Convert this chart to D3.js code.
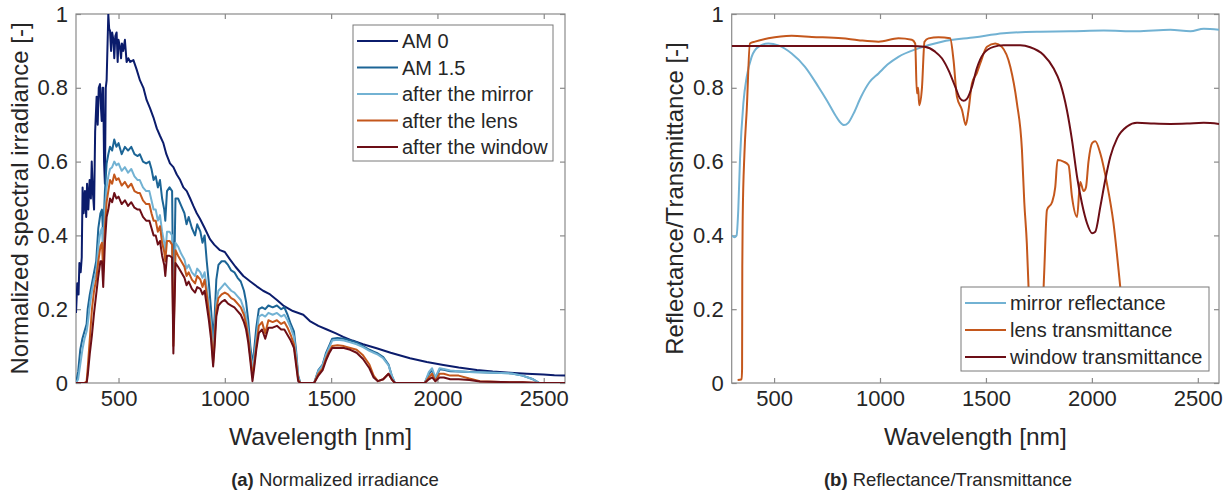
<!DOCTYPE html>
<html>
<head>
<meta charset="utf-8">
<script src="https://cdn.jsdelivr.net/npm/d3@7"></script>
<style>
    body { margin: 0; background: #fff; }
    svg text { font-family: "Liberation Sans", Arial, Helvetica, sans-serif; fill: #262626; }
</style>
</head>
<body>
<svg id="fig" width="1231" height="496"></svg>
<script>
/* ---------- data: panel (a) ---------- */
var wlAm0 = [300,306,312,316,322,327,331,336,342,348,352,358,364,370,374,379,385,390,397,402,407,413,417,421,425,428,432,436,440,444,452,456,460,465,470,476,480,485,491,496,500,507,512,516,522,530,538,546,555,570,585,601,617,632,648,664,680,695,711,725,742,758,774,790,805,821,837,852,868,883,905,930,950,977,1000,1024,1050,1087,1120,1150,1180,1213,1245,1275,1320,1369,1400,1440,1480,1520,1557,1600,1650,1714,1780,1871,1950,2028,2100,2185,2260,2341,2420,2498,2550,2600];
var am0 = [0.19,0.27,0.24,0.325,0.3,0.34,0.53,0.46,0.52,0.45,0.54,0.47,0.55,0.5,0.6,0.52,0.47,0.68,0.776,0.7,0.8,0.81,0.75,0.71,0.8,0.8,0.6,0.54,0.8,0.82,1.0,0.96,0.955,0.9,0.95,0.93,0.88,0.94,0.95,0.87,0.93,0.91,0.88,0.92,0.9,0.93,0.87,0.88,0.87,0.875,0.85,0.82,0.8,0.767,0.745,0.72,0.69,0.67,0.65,0.62,0.595,0.585,0.565,0.55,0.53,0.52,0.5,0.48,0.46,0.445,0.42,0.39,0.375,0.36,0.355,0.335,0.315,0.29,0.275,0.262,0.25,0.24,0.225,0.21,0.195,0.185,0.168,0.155,0.145,0.135,0.125,0.115,0.105,0.094,0.082,0.067,0.057,0.049,0.042,0.035,0.031,0.028,0.025,0.023,0.021,0.02];

var wlSpec = [300,310,320,330,340,350,355,365,375,385,395,405,415,422,428,436,444,452,460,470,480,490,500,515,530,545,560,575,590,600,615,630,645,655,665,675,685,695,705,715,720,728,740,752,758,762,768,780,795,810,820,830,845,860,870,885,895,905,915,925,935,945,952,960,970,985,1000,1015,1030,1045,1060,1075,1090,1100,1110,1120,1130,1138,1148,1160,1175,1190,1205,1225,1245,1265,1280,1295,1310,1325,1335,1345,1355,1420,1440,1460,1475,1490,1505,1530,1560,1590,1620,1650,1680,1700,1720,1745,1770,1785,1800,1940,1960,1975,1990,2010,2030,2060,2100,2150,2200,2300,2350,2400,2450,2480,2600];
var am15 = [0,0.03,0.09,0.12,0.14,0.16,0.2,0.24,0.27,0.3,0.33,0.42,0.46,0.47,0.4,0.52,0.595,0.62,0.64,0.63,0.66,0.64,0.65,0.62,0.64,0.63,0.64,0.62,0.615,0.62,0.6,0.595,0.6,0.58,0.55,0.56,0.53,0.55,0.5,0.47,0.44,0.52,0.53,0.52,0.2,0.3,0.5,0.5,0.48,0.46,0.43,0.45,0.42,0.4,0.43,0.41,0.38,0.4,0.33,0.27,0.2,0.12,0.18,0.28,0.32,0.33,0.33,0.32,0.305,0.3,0.285,0.275,0.25,0.22,0.17,0.1,0.05,0.09,0.15,0.2,0.205,0.2,0.21,0.205,0.21,0.2,0.205,0.185,0.16,0.14,0.09,0.02,0,0,0.035,0.05,0.08,0.1,0.12,0.122,0.12,0.115,0.11,0.1,0.09,0.085,0.08,0.07,0.05,0.02,0,0,0.025,0.035,0.01,0.037,0.036,0.032,0.031,0.03,0.029,0.027,0.026,0.02,0.01,0,0];
var afterMirror = [0,0.01,0.05,0.09,0.12,0.14,0.16,0.21,0.25,0.28,0.3,0.37,0.41,0.42,0.35,0.47,0.53,0.56,0.58,0.585,0.6,0.59,0.595,0.575,0.585,0.57,0.58,0.56,0.55,0.55,0.53,0.52,0.52,0.495,0.47,0.47,0.44,0.455,0.41,0.38,0.35,0.41,0.41,0.4,0.15,0.24,0.38,0.37,0.35,0.335,0.31,0.32,0.3,0.29,0.31,0.3,0.285,0.3,0.26,0.21,0.16,0.07,0.14,0.22,0.25,0.26,0.27,0.26,0.25,0.245,0.235,0.225,0.2,0.18,0.14,0.08,0.04,0.07,0.12,0.18,0.185,0.18,0.19,0.185,0.19,0.18,0.185,0.17,0.15,0.125,0.08,0.015,0,0,0.033,0.048,0.075,0.095,0.115,0.117,0.115,0.11,0.105,0.097,0.087,0.082,0.077,0.067,0.048,0.02,0,0,0.03,0.04,0.015,0.04,0.038,0.034,0.032,0.03,0.029,0.027,0.026,0.02,0.01,0,0];
var afterLens = [0,0,0,0,0,0.005,0.04,0.12,0.2,0.25,0.28,0.33,0.37,0.38,0.3,0.42,0.49,0.52,0.55,0.54,0.565,0.55,0.555,0.535,0.545,0.53,0.54,0.52,0.515,0.515,0.495,0.485,0.485,0.46,0.44,0.44,0.41,0.425,0.38,0.355,0.33,0.385,0.385,0.375,0.1,0.2,0.36,0.345,0.33,0.315,0.29,0.3,0.28,0.27,0.29,0.28,0.26,0.28,0.24,0.19,0.14,0.055,0.12,0.2,0.23,0.24,0.245,0.24,0.23,0.225,0.215,0.205,0.185,0.16,0.125,0.07,0.02,0.05,0.1,0.155,0.165,0.135,0.17,0.165,0.17,0.16,0.165,0.15,0.13,0.105,0.06,0.01,0,0,0.025,0.04,0.065,0.085,0.1,0.102,0.1,0.095,0.09,0.075,0.05,0.02,0.005,0.01,0.025,0.01,0,0,0.015,0.025,0.005,0.025,0.025,0.02,0.02,0.012,0.005,0.003,0.002,0.002,0.001,0,0];
var afterWindow = [0,0,0,0,0,0,0.02,0.08,0.13,0.19,0.24,0.29,0.33,0.33,0.26,0.38,0.45,0.47,0.5,0.49,0.515,0.5,0.505,0.485,0.495,0.48,0.49,0.475,0.47,0.47,0.45,0.44,0.44,0.42,0.4,0.4,0.375,0.385,0.345,0.32,0.29,0.345,0.345,0.34,0.08,0.18,0.325,0.315,0.3,0.285,0.265,0.275,0.255,0.245,0.26,0.255,0.24,0.25,0.21,0.17,0.12,0.045,0.1,0.18,0.21,0.22,0.225,0.215,0.21,0.205,0.195,0.185,0.165,0.145,0.11,0.06,0.005,0.04,0.09,0.135,0.145,0.12,0.15,0.15,0.155,0.145,0.145,0.13,0.115,0.095,0.05,0.005,0,0,0.02,0.035,0.06,0.08,0.095,0.095,0.095,0.09,0.082,0.065,0.04,0.015,0.005,0.01,0.025,0.01,0,0,0.01,0.015,0.005,0.015,0.015,0.01,0.01,0.008,0.004,0.003,0.002,0.002,0.001,0,0];

/* ---------- data: panel (b) ---------- */
var wlMirror = [300,312,323,331,339,355,371,394,426,473,520,583,646,709,750,790,810,830,850,875,910,950,993,1040,1087,1181,1292,1449,1583,1741,1898,2056,2213,2370,2465,2528,2600];
var mirrorR = [0.4,0.395,0.4,0.469,0.604,0.758,0.83,0.884,0.911,0.92,0.915,0.893,0.857,0.803,0.765,0.725,0.708,0.699,0.705,0.73,0.775,0.815,0.839,0.865,0.884,0.907,0.925,0.937,0.948,0.952,0.953,0.955,0.953,0.957,0.953,0.96,0.957];

var wlLens = [328,347,349,350,352,360,371,386,410,473,583,678,820,898,993,1087,1150,1166,1174,1180,1185,1198,1210,1229,1276,1331,1347,1363,1387,1405,1418,1434,1457,1473,1505,1544,1575,1615,1646,1670,1681,1693,1701,1715,1740,1760,1775,1788,1812,1827,1838,1866,1890,1906,1930,1945,1961,1972,1984,2001,2016,2040,2071,2102,2126,2134,2160,2200];
var lensT = [0.008,0.01,0.04,0.315,0.45,0.62,0.74,0.92,0.925,0.934,0.941,0.938,0.934,0.929,0.925,0.934,0.93,0.92,0.785,0.8,0.753,0.8,0.925,0.934,0.937,0.934,0.875,0.776,0.74,0.699,0.74,0.812,0.84,0.866,0.911,0.92,0.911,0.857,0.759,0.631,0.49,0.378,0.26,0.1,0.06,0.1,0.3,0.469,0.49,0.53,0.604,0.6,0.59,0.505,0.45,0.545,0.52,0.53,0.6,0.65,0.655,0.622,0.541,0.433,0.306,0.26,0.15,0.08];

var wlWindow = [300,600,900,1150,1210,1260,1292,1323,1355,1378,1394,1410,1434,1457,1489,1536,1583,1662,1709,1772,1819,1851,1882,1906,1930,1953,1977,2001,2016,2040,2063,2087,2119,2166,2213,2292,2370,2449,2528,2600];
var windowT = [0.913,0.913,0.913,0.913,0.911,0.898,0.88,0.848,0.803,0.771,0.765,0.77,0.803,0.853,0.893,0.911,0.915,0.915,0.91,0.889,0.853,0.812,0.74,0.659,0.559,0.487,0.433,0.406,0.41,0.478,0.55,0.613,0.663,0.695,0.705,0.703,0.702,0.703,0.705,0.702];

var xTicks = [500, 1000, 1500, 2000, 2500];
var yTicks = [0, 0.2, 0.4, 0.6, 0.8, 1];

var C_AM0 = "#0b1c6c", C_AM15 = "#1c6596", C_MIRROR = "#72b2d3", C_LENS = "#c4571c", C_WINDOW = "#6c0e16";

function zip(xs, ys) {
    return xs.map(function (x, i) { return [x, ys[i]]; });
}

var svg = d3.select("#fig");

function drawPanel(p) {
    var x = d3.scaleLinear().domain([300, 2600]).range([p.left, p.right]);
    var y = d3.scaleLinear().domain([0, 1]).range([383, 14]);
    var g = svg.append("g");

    var clipId = "clip-" + p.id;
    svg.append("clipPath").attr("id", clipId)
        .append("rect")
        .attr("x", p.left).attr("y", 14)
        .attr("width", p.right - p.left).attr("height", 383 - 14);

    /* axes: ticks point inward, labels outside */
    var fmt = function (d) { return d3.format("~g")(d); };
    g.append("g").attr("transform", "translate(0,383)")
        .call(d3.axisBottom(x).tickValues(xTicks).tickSizeInner(-5).tickSizeOuter(0).tickPadding(7).tickFormat(fmt))
        .call(styleAxis);
    g.append("g").attr("transform", "translate(0,14)")
        .call(d3.axisTop(x).tickValues(xTicks).tickSizeInner(-5).tickSizeOuter(0).tickFormat(""))
        .call(styleAxis);
    g.append("g").attr("transform", "translate(" + p.left + ",0)")
        .call(d3.axisLeft(y).tickValues(yTicks).tickSizeInner(-5).tickSizeOuter(0).tickPadding(8).tickFormat(fmt))
        .call(styleAxis);
    g.append("g").attr("transform", "translate(" + p.right + ",0)")
        .call(d3.axisRight(y).tickValues(yTicks).tickSizeInner(-5).tickSizeOuter(0).tickFormat(""))
        .call(styleAxis);

    /* box */
    g.append("rect")
        .attr("x", p.left).attr("y", 14)
        .attr("width", p.right - p.left).attr("height", 383 - 14)
        .attr("fill", "none").attr("stroke", "#8a8a8a").attr("stroke-width", 1.2);

    /* curves */
    var line = d3.line()
        .curve(p.smooth ? d3.curveMonotoneX : d3.curveLinear)
        .x(function (d) { return x(d[0]); })
        .y(function (d) { return y(d[1]); });
    var lines = g.append("g").attr("clip-path", "url(#" + clipId + ")");
    p.series.forEach(function (s) {
        lines.append("path")
            .datum(zip(s.x, s.y))
            .attr("d", line)
            .attr("fill", "none")
            .attr("stroke", s.color)
            .attr("stroke-width", 2)
            .attr("stroke-linejoin", "round");
    });

    /* labels */
    g.append("text")
        .attr("x", (p.left + p.right) / 2).attr("y", 445)
        .attr("text-anchor", "middle").attr("font-size", 24.5)
        .text("Wavelength [nm]");
    g.append("text")
        .attr("transform", "translate(" + p.yLabelX + ",198.5) rotate(-90)")
        .attr("text-anchor", "middle").attr("font-size", 24)
        .text(p.yLabel);

    /* legend */
    var L = p.legend;
    var lg = g.append("g");
    lg.append("rect")
        .attr("x", L.x).attr("y", L.y).attr("width", L.w).attr("height", L.h)
        .attr("fill", "#fff").attr("stroke", "#7a7a7a").attr("stroke-width", 1);
    p.series.forEach(function (s, i) {
        var cy = L.y + L.first + i * L.step;
        lg.append("line")
            .attr("x1", L.x + 4).attr("x2", L.x + 45)
            .attr("y1", cy).attr("y2", cy)
            .attr("stroke", s.color).attr("stroke-width", 2);
        lg.append("text")
            .attr("x", L.x + 49).attr("y", cy).attr("dy", "0.36em")
            .attr("font-size", 20)
            .text(s.name);
    });

    /* caption */
    var cap = g.append("text")
        .attr("x", p.capX).attr("y", 486)
        .attr("text-anchor", "middle").attr("font-size", 18.5);
    cap.append("tspan").attr("font-weight", "bold").text(p.capTag);
    cap.append("tspan").text(" " + p.capText);
}

function styleAxis(sel) {
    sel.select(".domain").remove();
    sel.selectAll(".tick line").attr("stroke", "#8a8a8a").attr("stroke-width", 1.2);
    sel.selectAll(".tick text")
        .attr("font-size", 22)
        .attr("font-family", "'Liberation Sans', Arial, Helvetica, sans-serif")
        .attr("fill", "#262626");
}

drawPanel({
    id: "a", left: 76, right: 565, yLabelX: 28, smooth: false,
    yLabel: "Normalized spectral irradiance [-]",
    series: [
        { name: "AM 0", x: wlAm0, y: am0, color: C_AM0 },
        { name: "AM 1.5", x: wlSpec, y: am15, color: C_AM15 },
        { name: "after the mirror", x: wlSpec, y: afterMirror, color: C_MIRROR },
        { name: "after the lens", x: wlSpec, y: afterLens, color: C_LENS },
        { name: "after the window", x: wlSpec, y: afterWindow, color: C_WINDOW }
    ],
    legend: { x: 353, y: 25, w: 200, h: 136, first: 16, step: 26.5 },
    capX: 335, capTag: "(a)", capText: "Normalized irradiance"
});

drawPanel({
    id: "b", left: 731.7, right: 1219, yLabelX: 683, smooth: true,
    yLabel: "Reflectance/Transmittance [-]",
    series: [
        { name: "mirror reflectance", x: wlMirror, y: mirrorR, color: C_MIRROR },
        { name: "lens transmittance", x: wlLens, y: lensT, color: C_LENS },
        { name: "window transmittance", x: wlWindow, y: windowT, color: C_WINDOW }
    ],
    legend: { x: 961, y: 287, w: 248, h: 84, first: 16, step: 27 },
    capX: 948, capTag: "(b)", capText: "Reflectance/Transmittance"
});
</script>
</body>
</html>
